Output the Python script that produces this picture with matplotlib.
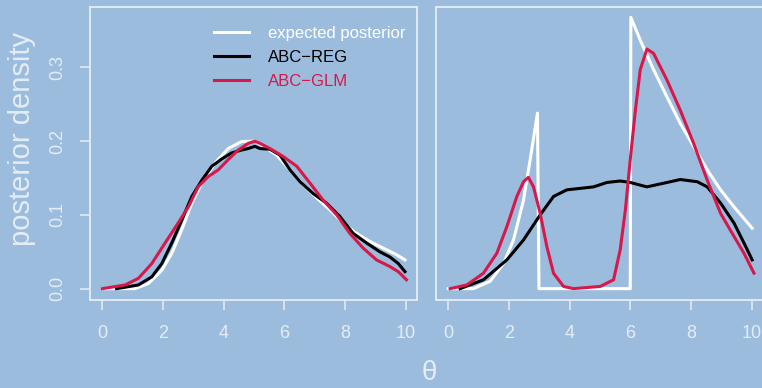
import matplotlib.pyplot as plt

plt.rcParams['font.family'] = ['Liberation Sans', 'DejaVu Sans']

BG = '#9CBCDD'
FG = '#E4EDF6'
RED = '#D8174A'

# left panel: unimodal posterior
exp_l_x = [0.0, 1.08, 1.52, 1.96, 2.29, 2.62, 2.95, 3.28, 3.71, 4.15, 4.59, 5.03, 5.31,
           5.75, 6.19, 6.62, 7.07, 7.5, 7.94, 8.38, 8.82, 9.26, 9.7, 9.98]
exp_l = [0.0, 0.0, 0.007, 0.025, 0.048, 0.08, 0.116, 0.143, 0.170, 0.19, 0.1995, 0.2, 0.193,
         0.181, 0.161, 0.141, 0.123, 0.107, 0.089, 0.075, 0.064, 0.055, 0.046, 0.039]

reg_l_x = [0.47, 1.19, 1.63, 1.96, 2.29, 2.62, 2.95, 3.28, 3.61, 3.94, 4.26, 4.59, 4.81,
           5.03, 5.2, 5.53, 5.86, 6.19, 6.52, 6.95, 7.39, 7.83, 8.27, 8.71, 9.15, 9.48,
           9.76, 9.98]
reg_l = [0.0, 0.005, 0.016, 0.034, 0.062, 0.093, 0.125, 0.147, 0.166, 0.176, 0.184, 0.188,
         0.19, 0.193, 0.19, 0.189, 0.181, 0.161, 0.145, 0.129, 0.116, 0.098, 0.075, 0.062,
         0.05, 0.043, 0.034, 0.023]

glm_l_x = [0.0, 0.75, 1.19, 1.63, 2.07, 2.5, 2.84, 3.16, 3.49, 3.82, 4.15, 4.48, 4.81,
           5.03, 5.2, 5.53, 5.97, 6.41, 6.85, 7.28, 7.73, 8.16, 8.6, 9.04, 9.48, 9.76, 10.03]
glm_l = [0.0, 0.005, 0.014, 0.034, 0.062, 0.089, 0.111, 0.138, 0.152, 0.161, 0.175, 0.188,
         0.197, 0.2, 0.197, 0.19, 0.179, 0.166, 0.143, 0.12, 0.1, 0.075, 0.055, 0.039,
         0.03, 0.023, 0.012]

# right panel: posterior with a gap between 3 and 6
exp_r_x = [0.0, 0.83, 1.38, 1.82, 2.15, 2.48, 2.7, 2.94, 2.99, 6.0, 6.02, 6.33, 6.77,
           7.21, 7.65, 8.09, 8.54, 8.98, 9.42, 10.02]
exp_r = [0.0, 0.0, 0.01, 0.034, 0.066, 0.12, 0.175, 0.238, 0.0, 0.0, 0.368, 0.337, 0.297,
         0.26, 0.224, 0.193, 0.161, 0.134, 0.111, 0.082]

reg_r_x = [0.39, 1.16, 1.93, 2.48, 3.03, 3.47, 3.91, 4.35, 4.79, 5.23, 5.67, 6.0, 6.55,
           7.1, 7.65, 8.21, 8.54, 8.98, 9.42, 9.75, 10.02]
reg_r = [0.0, 0.012, 0.039, 0.066, 0.1, 0.125, 0.134, 0.136, 0.138, 0.144, 0.146, 0.144,
         0.138, 0.143, 0.148, 0.145, 0.138, 0.116, 0.089, 0.062, 0.039]

glm_r_x = [0.06, 0.61, 1.16, 1.6, 1.93, 2.26, 2.48, 2.64, 2.81, 3.03, 3.25, 3.47, 3.8,
           4.13, 5.01, 5.45, 5.67, 5.84, 6.0, 6.17, 6.33, 6.55, 6.77, 7.21, 7.65, 8.09,
           8.54, 8.98, 9.42, 9.75, 10.08]
glm_r = [0.0, 0.005, 0.021, 0.048, 0.084, 0.125, 0.145, 0.151, 0.138, 0.102, 0.057, 0.021,
         0.003, 0.0, 0.003, 0.012, 0.053, 0.107, 0.175, 0.242, 0.297, 0.325, 0.319, 0.283,
         0.242, 0.197, 0.147, 0.102, 0.071, 0.048, 0.021]

xticks = [0, 2, 4, 6, 8, 10]
yticks = [0.0, 0.1, 0.2, 0.3]
ytick_labels = ['0.0', '0.1', '0.2', '0.3']

fig = plt.figure(figsize=(7.62, 3.88), dpi=100, facecolor=BG)
ax1 = fig.add_axes([0.118, 0.227, 0.429, 0.755], facecolor=BG)
ax2 = fig.add_axes([0.572, 0.227, 0.429, 0.755], facecolor=BG)

for ax in (ax1, ax2):
    ax.set_xlim(-0.41, 10.37)
    ax.set_ylim(-0.0153, 0.382)
    for sp in ax.spines.values():
        sp.set_color(FG)
        sp.set_linewidth(1.3)
    ax.set_xticks(xticks)
    ax.tick_params(axis='x', colors=FG, labelcolor=FG, direction='out', length=7,
                   width=1.1, pad=11, labelsize=13)

lw = 2.2
ax1.plot(exp_l_x, exp_l, color='white', lw=lw, label='expected posterior')
ax1.plot(reg_l_x, reg_l, color='black', lw=lw, label='ABC\u2212REG')
ax1.plot(glm_l_x, glm_l, color=RED, lw=lw, label='ABC\u2212GLM')

ax2.plot(exp_r_x, exp_r, color='white', lw=lw)
ax2.plot(reg_r_x, reg_r, color='black', lw=lw)
ax2.plot(glm_r_x, glm_r, color=RED, lw=lw)

ax1.set_yticks(yticks)
ax1.set_yticklabels(ytick_labels, rotation=90, va='center')
ax1.tick_params(axis='y', colors=FG, labelcolor=FG, direction='out', length=7,
                width=1.1, pad=10, labelsize=13)
ax2.set_yticks([])

leg = ax1.legend(loc='upper left', bbox_to_anchor=(0.36, 0.958), frameon=False,
                 fontsize=12, handlelength=2.1, handletextpad=1.15,
                 labelspacing=0.55, borderaxespad=0)
for txt, line in zip(leg.get_texts(), leg.get_lines()):
    txt.set_color(line.get_color())

fig.text(0.029, 1 - 138.5 / 388, 'posterior density', rotation=90, ha='center',
         va='center', color=FG, fontsize=21)
fig.text(0.564, 1 - 373 / 388, '\u03b8', ha='center', va='center', color=FG, fontsize=20)

fig.savefig('out.png', dpi=100, facecolor=BG)
